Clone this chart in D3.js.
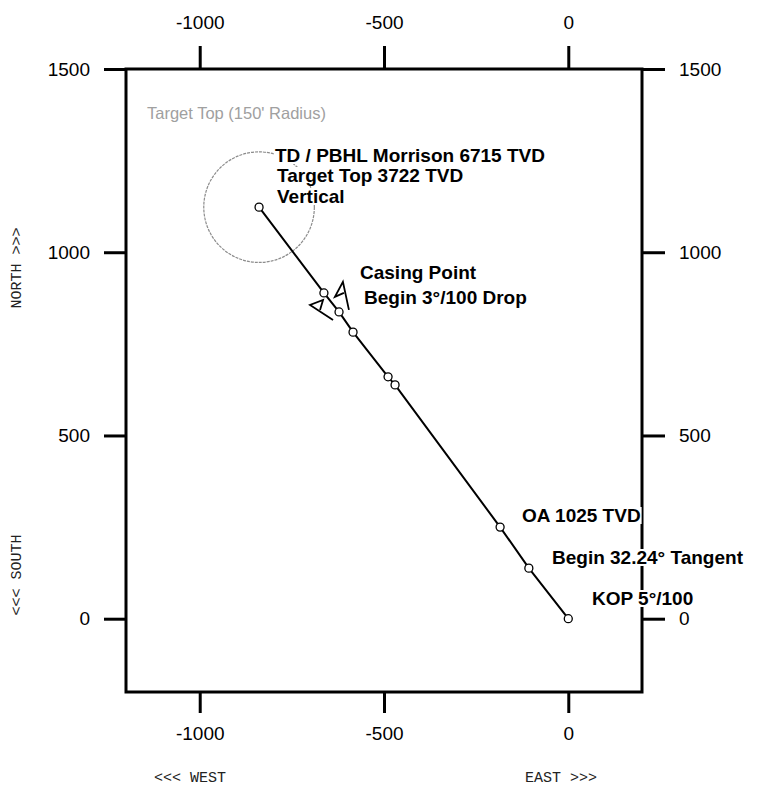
<!DOCTYPE html>
<html><head><meta charset="utf-8">
<script src="https://cdn.jsdelivr.net/npm/d3@7"></script>
<style>body{margin:0;background:#fff}</style>
</head><body>
<script>
// Survey stations (East/West, North/South in feet)
const eastWest  = [0, -107, -185, -470, -489, -584, -622, -663, -839];
const northSouth = [0, 138, 250, 638, 660, 782, 837, 889, 1123];
const xTicks = [-1000, -500, 0];
const yTicks = [0, 500, 1000, 1500];
const targetCenter = [-839, 1123];
const targetRadius = 150;

const W = 759, H = 788;
const svg = d3.select("body").append("svg").attr("width", W).attr("height", H);
const x = d3.scaleLinear().domain([-1200, 200]).range([126, 642]);
const y = d3.scaleLinear().domain([-200, 1500]).range([692, 69]);

const font = "'Liberation Sans', Arial, sans-serif";
const mono = "'Liberation Mono', 'Courier New', monospace";
const fmt = d => String(d);

function styleAxis(g){
  g.select(".domain").remove();
  g.selectAll(".tick line").attr("stroke", "#000").attr("stroke-width", 3);
  g.selectAll(".tick text").attr("font-family", font).attr("font-size", 19).attr("fill", "#000");
}
svg.append("g").attr("transform", `translate(0,${y.range()[0]})`)
  .call(d3.axisBottom(x).tickValues(xTicks).tickSize(21).tickPadding(14).tickFormat(fmt)).call(styleAxis);
svg.append("g").attr("transform", `translate(0,${y.range()[1]})`)
  .call(d3.axisTop(x).tickValues(xTicks).tickSize(23).tickPadding(17).tickFormat(fmt)).call(styleAxis);
svg.append("g").attr("transform", `translate(${x.range()[0]},0)`)
  .call(d3.axisLeft(y).tickValues(yTicks).tickSize(22).tickPadding(14).tickFormat(fmt)).call(styleAxis);
svg.append("g").attr("transform", `translate(${x.range()[1]},0)`)
  .call(d3.axisRight(y).tickValues(yTicks).tickSize(23).tickPadding(14).tickFormat(fmt)).call(styleAxis);

// Target circle
svg.append("circle")
  .attr("cx", x(targetCenter[0])).attr("cy", y(targetCenter[1]))
  .attr("r", x(targetRadius) - x(0))
  .attr("fill", "none").attr("stroke", "#8c8c8c").attr("stroke-width", 1.2)
  .attr("stroke-dasharray", "3,1");

// Well path
const pts = eastWest.map((e, i) => [e, northSouth[i]]);
svg.append("path").datum(pts)
  .attr("d", d3.line().x(d => x(d[0])).y(d => y(d[1])))
  .attr("fill", "none").attr("stroke", "#000").attr("stroke-width", 2);
svg.selectAll("circle.st").data(pts).enter().append("circle").attr("class", "st")
  .attr("cx", d => x(d[0])).attr("cy", d => y(d[1])).attr("r", 4)
  .attr("fill", "#fff").attr("stroke", "#000").attr("stroke-width", 1.3);

// Flags near casing point
const f1 = pts[7], f2 = pts[6];
svg.append("path")
  .attr("transform", `translate(${x(f1[0])},${y(f1[1])})`)
  .attr("d", "M25,17 L19,-11 L11,4 L20,0")
  .attr("fill", "none").attr("stroke", "#000").attr("stroke-width", 1.8);
svg.append("path")
  .attr("transform", `translate(${x(f2[0])},${y(f2[1])})`)
  .attr("d", "M-6,8 L-29,-7 L-16,-12 L-19,-2")
  .attr("fill", "none").attr("stroke", "#000").attr("stroke-width", 1.8);

// Plot frame
svg.append("rect").attr("x", x.range()[0]).attr("y", y.range()[1])
  .attr("width", x.range()[1] - x.range()[0]).attr("height", y.range()[0] - y.range()[1])
  .attr("fill", "none").attr("stroke", "#000").attr("stroke-width", 3);

// Annotations
svg.append("text").attr("x", 147).attr("y", 119).attr("font-family", font).attr("font-size", 16.5)
  .attr("fill", "#a0a0a0").text("Target Top (150' Radius)");

const notes = [
  ["TD / PBHL Morrison 6715 TVD", 275, 162],
  ["Target Top 3722 TVD", 277, 182],
  ["Vertical", 277, 203],
  ["Casing Point", 360, 279],
  ["Begin 3°/100 Drop", 364, 304],
  ["OA 1025 TVD", 522, 522],
  ["Begin 32.24° Tangent", 552, 564],
  ["KOP 5°/100", 592, 605]
];
const ng = svg.append("g");
notes.forEach(([t, tx, ty]) => {
  const txt = ng.append("text").attr("x", tx).attr("y", ty)
    .attr("font-family", font).attr("font-size", 19).attr("font-weight", "bold")
    .attr("fill", "#000").text(t);
  const bb = txt.node().getBBox();
  ng.insert("rect", () => txt.node()).attr("x", bb.x - 1).attr("y", bb.y + 2)
    .attr("width", bb.width + 2).attr("height", bb.height - 4).attr("fill", "#fff");
});

// Direction labels
const dirStyle = s => s.attr("font-family", mono).attr("font-size", 15).attr("fill", "#222");
svg.append("text").attr("x", 190).attr("y", 782).attr("text-anchor", "middle").call(dirStyle).text("<<< WEST");
svg.append("text").attr("x", 561).attr("y", 782).attr("text-anchor", "middle").call(dirStyle).text("EAST >>>");
svg.append("text").attr("transform", "translate(21,268) rotate(-90)").attr("text-anchor", "middle").call(dirStyle).text("NORTH >>>");
svg.append("text").attr("transform", "translate(21,575) rotate(-90)").attr("text-anchor", "middle").call(dirStyle).text("<<< SOUTH");
</script>
</body></html>
